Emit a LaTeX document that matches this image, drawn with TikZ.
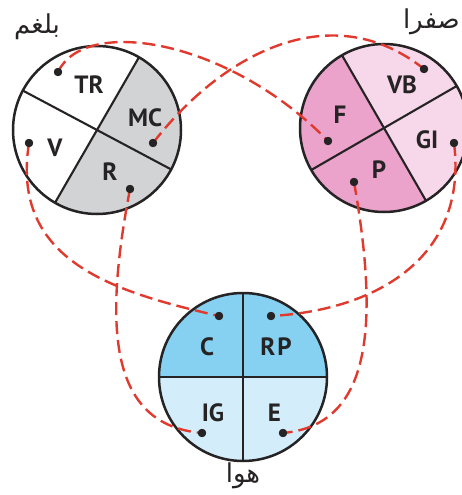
\documentclass[tikz,border=0pt]{standalone}
\usepackage{fontspec}
\setmainfont{PT Sans}
\newfontfamily\arabicfont[Script=Arabic]{DejaVu Sans}
\TeXXeTstate=1
\definecolor{ink}{HTML}{262324}
\definecolor{linkred}{HTML}{E03A2E}
\definecolor{grayfill}{HTML}{D2D3D5}
\definecolor{pinkdark}{HTML}{EBA3CB}
\definecolor{pinklight}{HTML}{F7D8EA}
\definecolor{bluedark}{HTML}{86D1F1}
\definecolor{bluelight}{HTML}{D3EEFA}
\tikzset{
  lab/.style={font=\bfseries\fontsize{25}{27}\selectfont, text=ink, inner sep=0pt},
  arab/.style={font=\arabicfont\fontsize{26}{28}\selectfont, text=ink, inner sep=0pt},
  dotn/.style={circle, fill=ink, inner sep=0pt, minimum size=8pt},
  link/.style={draw=linkred, line width=2.4pt, dash pattern=on 13pt off 6pt},
  rim/.style={draw=ink, line width=2.5pt},
  divider/.style={draw=ink, line width=2.1pt}
}
\begin{document}
\begin{tikzpicture}[x=1pt,y=-1pt]
\useasboundingbox (0,0) rectangle (462,495);
\clip (0,0) rectangle (462,495);
\coordinate (L) at (97,130);
\coordinate (Rt) at (384,128);
\coordinate (B) at (243,377);
% left circle
\fill[white] (L) circle (84);
\fill[grayfill] (L) -- ++(-60:84) arc[start angle=-60, end angle=120, radius=84] -- cycle;
\draw[divider] (L) ++(-60:84) -- ++(120:168);
\draw[divider] (L) ++(28:84) -- ++(208:168);
\draw[rim] (L) circle (84);
% right circle
\fill[pinklight] (Rt) circle (84);
\fill[pinkdark] (Rt) -- ++(60:84) arc[start angle=60, end angle=240, radius=84] -- cycle;
\draw[divider] (Rt) ++(-30:84) -- ++(150:168);
\draw[divider] (Rt) ++(-120:84) -- ++(60:168);
\draw[rim] (Rt) circle (84);
% bottom circle
\fill[bluelight] (B) circle (84);
\fill[bluedark] (B) -- ++(-180:84) arc[start angle=-180, end angle=0, radius=84] -- cycle;
\draw[divider] (B) ++(0:84) -- ++(180:168);
\draw[divider] (B) ++(-90:84) -- ++(90:168);
\draw[rim] (B) circle (84);
% dots
\node[dotn] (tr) at (58,72) {};
\node[dotn] (mc) at (153,143) {};
\node[dotn] (v) at (29,143) {};
\node[dotn] (r) at (130,189) {};
\node[dotn] (vb) at (424,69) {};
\node[dotn] (f) at (328,141) {};
\node[dotn] (gi) at (454,143) {};
\node[dotn] (p) at (354,182) {};
\node[dotn] (c) at (219,316) {};
\node[dotn] (rp) at (271,316) {};
\node[dotn] (ig) at (202,433) {};
\node[dotn] (e) at (283,433) {};
% links
\draw[link] (tr.center) .. controls (85,15) and (230,40) .. (f.center);
\draw[link] (mc.center) .. controls (225,50) and (334,-3) .. (vb.center);
\draw[link] (v.center) .. controls (10,262) and (115,292) .. (c.center);
\draw[link] (r.center) .. controls (103,330) and (110,425) .. (ig.center);
\draw[link] (p.center) .. controls (380,330) and (370,425) .. (e.center);
\draw[link] (gi.center) .. controls (468,255) and (380,310) .. (rp.center);
% redraw dots on top
\foreach \d in {tr,mc,v,r,vb,f,gi,p,c,rp,ig,e} \fill[ink] (\d) circle (4.2);
% labels
\node[lab] (ltr) at (89,85) {TR};
\node[lab] (lmc) at (145,118) {MC};
\node[lab] (lv) at (55,148) {V};
\node[lab] (lr) at (110,172) {R};
\node[lab] (lvb) at (402,85) {VB};
\node[lab] (lf) at (340,115) {F};
\node[lab] (lgi) at (427,140) {GI};
\node[lab] (lp) at (379,170) {P};
\node[lab] (lc) at (207,347) {C};
\node[lab] (lrp) at (276,347) {R\kern2pt P};
\node[lab] (lig) at (213,413) {IG};
\node[lab] (le) at (274.5,413) {E};
\node[arab] (t1) at (37,27) {\beginR بلغم\endR};
\node[arab, anchor=east] (t2) at (460,22) {\beginR صفرا\endR};
\node[arab] (t3) at (243,476) {\beginR هوا\endR};
\end{tikzpicture}
\end{document}
